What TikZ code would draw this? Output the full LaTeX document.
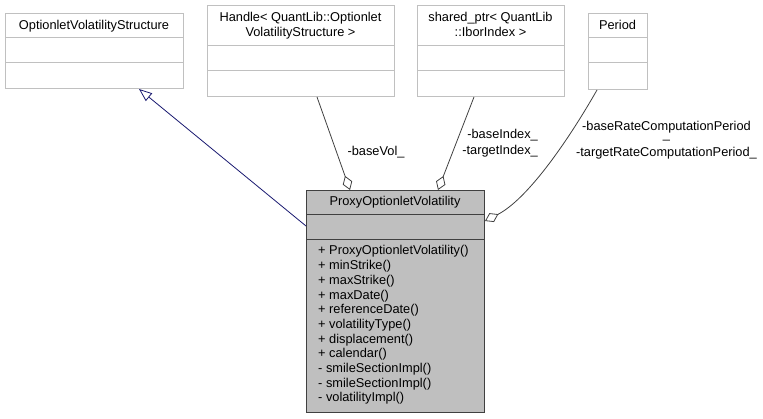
\documentclass[tikz,border=0pt]{standalone}
\usepackage{fontspec}
\setmainfont{Liberation Sans}
\usetikzlibrary{arrows.meta,calc}
\definecolor{boxgray}{HTML}{BFBFBF}
\definecolor{lightborder}{HTML}{C0C0C0}
\definecolor{edgegray}{HTML}{404040}
\definecolor{inhblue}{HTML}{191970}
\begin{document}
\begin{tikzpicture}[x=1pt,y=-1pt,
  lbl/.style={inner sep=0pt,anchor=base,font=\fontsize{12.8}{14.7}\selectfont},
  mem/.style={inner sep=0pt,anchor=base west,font=\fontsize{12.8}{14.7}\selectfont},
  classbox/.style={draw=lightborder,fill=white,line width=1pt,rectangle,inner sep=0pt,anchor=north west},
  mainbox/.style={draw=black!75,fill=boxgray,line width=1pt,rectangle,inner sep=0pt,anchor=north west},
  aggr/.style={draw=edgegray,line width=0.8pt,-{Diamond[open,length=15pt,width=10pt,fill=white]}},
  inh/.style={draw=inhblue,line width=0.8pt,-{Triangle[open,length=13pt,width=10pt,fill=white]}}
]
\useasboundingbox (0,0) rectangle (763,419);

% OptionletVolatilityStructure
\node[classbox,minimum width=178pt,minimum height=75pt] (ovs) at (5,13) {};
\draw[lightborder,line width=1pt] ($(ovs.north west)+(0,25)$) -- ($(ovs.north east)+(0,25)$);
\draw[lightborder,line width=1pt] ($(ovs.north west)+(0,50)$) -- ($(ovs.north east)+(0,50)$);
\node[lbl] (ovst) at (94,29.3) {OptionletVolatilityStructure};

% Handle
\node[classbox,minimum width=187pt,minimum height=91pt] (handle) at (207,5) {};
\draw[lightborder,line width=1pt] ($(handle.north west)+(0,41)$) -- ($(handle.north east)+(0,41)$);
\draw[lightborder,line width=1pt] ($(handle.north west)+(0,66)$) -- ($(handle.north east)+(0,66)$);
\node[lbl] (handlet1) at (300.5,21.7) {Handle< QuantLib::Optionlet};
\node[lbl] (handlet2) at (300.5,37) {VolatilityStructure >};

% shared_ptr
\node[classbox,minimum width=147pt,minimum height=91pt] (shared) at (417,5) {};
\draw[lightborder,line width=1pt] ($(shared.north west)+(0,41)$) -- ($(shared.north east)+(0,41)$);
\draw[lightborder,line width=1pt] ($(shared.north west)+(0,66)$) -- ($(shared.north east)+(0,66)$);
\node[lbl] (sharedt1) at (490.5,21.7) {shared\_ptr< QuantLib};
\node[lbl] (sharedt2) at (490.5,37) {::IborIndex >};

% Period
\node[classbox,minimum width=59pt,minimum height=76pt] (period) at (588,13) {};
\draw[lightborder,line width=1pt] ($(period.north west)+(0,25)$) -- ($(period.north east)+(0,25)$);
\draw[lightborder,line width=1pt] ($(period.north west)+(0,50)$) -- ($(period.north east)+(0,50)$);
\node[lbl] (periodt) at (617.5,29.3) {Period};

% Main class
\node[mainbox,minimum width=178pt,minimum height=222pt] (main) at (306,190) {};
\draw[black!75,line width=1pt] ($(main.north west)+(0,25)$) -- ($(main.north east)+(0,25)$);
\draw[black!75,line width=1pt] ($(main.north west)+(0,50)$) -- ($(main.north east)+(0,50)$);
\node[lbl] (maint) at (395,206) {ProxyOptionletVolatility};
\foreach \t [count=\i from 0] in {%
  {+ ProxyOptionletVolatility()},{+ minStrike()},{+ maxStrike()},{+ maxDate()},%
  {+ referenceDate()},{+ volatilityType()},{+ displacement()},{+ calendar()},%
  {- smileSectionImpl()},{- smileSectionImpl()},{- volatilityImpl()}}
  \node[mem] (m\i) at (318,255+14.67*\i) {\t};

% Edges
\draw[inh] ($(main.north west)+(0,36)$) -- ($(ovs.south west)+(134,0)$);
\draw[aggr] ($(handle.south west)+(110,0)$) -- ($(main.north west)+(44,0)$);
\draw[aggr] ($(shared.south west)+(57,0)$) -- ($(main.north west)+(132,0)$);
\draw[aggr] ($(period.south west)+(9,0)$) .. controls ($(period.south west)+(-23,56)$) and ($(main.north east)+(41,10)$) .. ($(main.north east)+(0,31)$);

% Edge labels
\node[lbl] (lbasevol) at (376,155.5) {-baseVol\_};
\node[lbl,anchor=base east] (lbaseidx) at (538,138.5) {-baseIndex\_};
\node[lbl,anchor=base east] (ltargetidx) at (538,154.5) {-targetIndex\_};
\node[inner sep=0pt,anchor=north,align=center,font=\fontsize{12.8}{13}\selectfont] (lrate) at (666.5,121)
  {-baseRateComputationPeriod\\[-5pt]\_\\[5pt]-targetRateComputationPeriod\_};
\end{tikzpicture}
\end{document}
